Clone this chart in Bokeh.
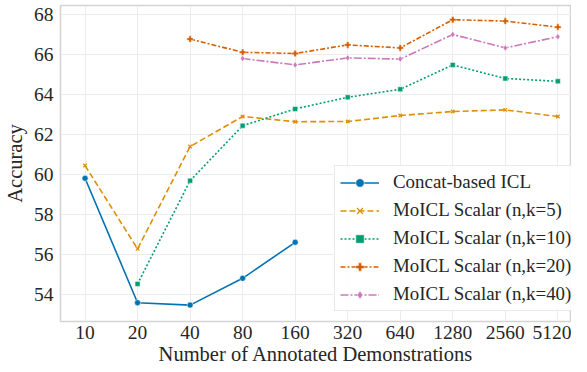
from bokeh.plotting import figure
from bokeh.models import Range1d, FixedTicker, Legend
from bokeh.embed import file_html
from bokeh.resources import INLINE

categories = ["10", "20", "40", "80", "160", "320", "640", "1280", "2560", "5120"]

concat_x = ["10", "20", "40", "80", "160"]
concat_y = [59.81, 53.59, 53.47, 54.81, 56.61]

k5_x = categories
k5_y = [60.45, 56.28, 61.40, 62.90, 62.64, 62.65, 62.95, 63.15, 63.23, 62.90]

k10_x = categories[1:]
k10_y = [54.53, 59.69, 62.44, 63.28, 63.86, 64.26, 65.48, 64.80, 64.66]

k20_x = categories[2:]
k20_y = [66.77, 66.11, 66.05, 66.48, 66.33, 67.74, 67.67, 67.37]

k40_x = categories[3:]
k40_y = [65.80, 65.48, 65.83, 65.77, 67.00, 66.33, 66.89]

y_ticks = [54, 56, 58, 60, 62, 64, 66, 68]

series = [
    ("Concat-based ICL", concat_x, concat_y, "#0173b2", "solid", "circle", 6),
    ("MoICL Scalar (n,k=5)", k5_x, k5_y, "#de8f05", "6 3", "x", 5),
    ("MoICL Scalar (n,k=10)", k10_x, k10_y, "#029e73", "2 2", "square", 5),
    ("MoICL Scalar (n,k=20)", k20_x, k20_y, "#d55e00", "5 2 2 2", "plus", 6.5),
    ("MoICL Scalar (n,k=40)", k40_x, k40_y, "#cc78bc", "8 2 2 2", "diamond", 6.5),
]

FONT = "Liberation Serif"

p = figure(width=571, height=368, output_backend="svg", toolbar_location=None,
           x_range=Range1d(-0.467, 9.26), y_range=Range1d(52.65, 68.45),
           min_border_left=50, min_border_right=0, min_border_top=5, min_border_bottom=47)
p.background_fill_color = "white"
p.border_fill_color = "white"
p.outline_line_color = "#d4d4d4"
p.outline_line_width = 1.6

idx = {c: i for i, c in enumerate(categories)}

p.xaxis.ticker = FixedTicker(ticks=list(range(len(categories))))
p.xaxis.major_label_overrides = {i: c for i, c in enumerate(categories)}
p.yaxis.ticker = FixedTicker(ticks=y_ticks)

for ax in (p.xaxis[0], p.yaxis[0]):
    ax.axis_line_color = None
    ax.major_tick_line_color = None
    ax.minor_tick_line_color = None
    ax.major_tick_in = 0
    ax.major_tick_out = 0
    ax.minor_tick_in = 0
    ax.minor_tick_out = 0
    ax.major_label_text_font = FONT
    ax.major_label_text_font_size = "19.5px"
    ax.major_label_text_color = "#262626"
    ax.axis_label_text_font = FONT
    ax.axis_label_text_font_size = "20.5px"
    ax.axis_label_text_font_style = "normal"
    ax.axis_label_text_color = "#262626"
p.xaxis.major_label_standoff = 4
p.yaxis.major_label_standoff = 7
p.xaxis.axis_label = "Number of Annotated Demonstrations"
p.yaxis.axis_label = "Accuracy"
p.xaxis.axis_label_standoff = 1
p.yaxis.axis_label_standoff = 5

p.xgrid.grid_line_color = "#ececec"
p.ygrid.grid_line_color = "#ececec"
p.xgrid.grid_line_width = 1
p.ygrid.grid_line_width = 1

items = []
for label, xs, ys, color, dash, marker, size in series:
    xi = [idx[c] for c in xs]
    r1 = p.line(xi, ys, line_color=color, line_width=1.6, line_dash=dash)
    if marker == "x":
        r2 = p.scatter(xi, ys, marker="x", size=size, line_color=color, line_width=1.2)
    else:
        r2 = p.scatter(xi, ys, marker=marker, size=size, fill_color=color,
                       line_color="white", line_width=0.5)
    items.append((label, [r1, r2]))

legend = Legend(items=items, location=(274, 10))
legend.label_text_font = FONT
legend.label_text_font_size = "18.9px"
legend.label_text_color = "#262626"
legend.glyph_width = 39
legend.glyph_height = 21
legend.label_height = 21
legend.label_width = 184
legend.label_standoff = 14
legend.spacing = 6
legend.padding = 5
legend.margin = 0
legend.border_line_color = "#d4d4d4"
legend.border_line_width = 1
legend.background_fill_color = "white"
legend.background_fill_alpha = 0.9
p.add_layout(legend, "center")

open("out.html", "w").write(file_html(p, INLINE))
